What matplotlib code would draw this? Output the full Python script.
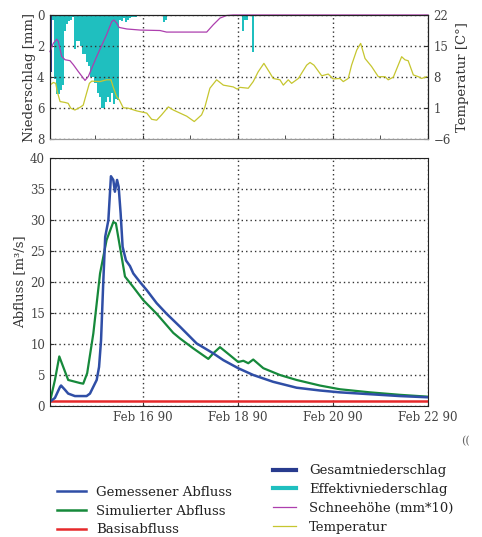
import datetime as dt
import matplotlib
matplotlib.use("Agg")
import matplotlib.pyplot as plt
import matplotlib.dates as mdates
from matplotlib.lines import Line2D

plt.rcParams['font.family'] = ['DejaVu Serif']
plt.rcParams['mathtext.fontset'] = 'dejavuserif'

t0 = dt.datetime(1990, 2, 14)

# Abfluss, Stunden ab 14.02.1990 00:00
q_obs_h = [1, 3.5, 6.1, 6.6, 8.6, 10.2, 13.6, 19.5, 21.2, 22.9, 24.6, 25.8, 26.8, 27.9,
           28.9, 30.5, 31.8, 33.0, 33.8, 34.9, 35.7, 36.7, 37.7, 39.4, 41.4, 43.1, 46.5,
           49.9, 54.9, 59.9, 66.7, 75.1, 83.5, 88.6, 96.1, 103.7, 113.8, 125.6, 137.4,
           147.5, 162.7, 177.8, 192]
q_obs = [0.7, 1.3, 3.1, 3.3, 2.6, 2.0, 1.6, 1.6, 2.0, 3.1, 4.2, 6.3, 10.6, 19.8,
         27.3, 30.0, 37.1, 36.5, 34.6, 36.5, 35.4, 31.1, 25.7, 23.5, 22.6, 21.4, 20.0,
         18.7, 16.6, 14.9, 12.8, 10.1, 8.5, 7.4, 6.1, 5.0, 3.9, 2.95, 2.5,
         2.2, 1.9, 1.6, 1.4]

q_sim_h = [1, 3.5, 5.7, 7.7, 10.2, 16.2, 17.8, 19.8, 22.9, 26.3, 29.6, 33.0, 34.3, 37.2,
           38.9, 43.1, 48.1, 54.9, 63.3, 66.7, 73.4, 81.0, 83.5, 86.9, 91.9, 96.1, 98.7,
           101.2, 103.7, 108.8, 117.2, 125.6, 137.4, 147.5, 162.7, 177.8, 192]
q_sim = [0.7, 4.2, 8.0, 6.3, 4.2, 3.7, 3.6, 5.3, 11.7, 21.4, 26.8, 29.7, 29.5, 24.1,
         20.9, 19.2, 17.1, 14.9, 11.8, 10.9, 9.3, 7.6, 8.5, 9.5, 8.2, 7.1, 7.3,
         6.9, 7.5, 6.1, 5.0, 4.2, 3.3, 2.7, 2.2, 1.8, 1.5]

q_base = 0.8

# Niederschlag (stuendlich, Ende der Stunde) [mm]
p_tot_h = [2]
p_tot = [3.7]
p_eff_h = [3, 4, 5, 6, 7, 8, 9, 10, 11, 12, 13, 14, 15, 16, 17, 18, 19, 20, 21, 22,
           23, 24, 25, 26, 27, 28, 29, 30, 31, 32, 33, 34, 35, 36,
           37, 38, 39, 40, 41, 42, 43, 44, 45, 59, 60, 99, 100, 101, 104]
p_eff = [0.3, 4.1, 5.1, 5.1, 4.8, 4.5, 1.0, 0.55, 0.4, 0.3, 0.1, 2.2, 1.7, 1.7, 2.0,
         2.5, 2.5, 3.0, 3.3, 4.0, 4.0, 4.4, 4.4, 5.0, 5.3, 6.0, 6.0, 5.6, 5.3, 5.6,
         5.0, 5.7, 5.4, 5.5,
         0.3, 0.4, 0.2, 0.45, 0.3, 0.2, 0.15, 0.1, 0.1, 0.45, 0.3, 1.0, 0.3, 0.3, 2.4]

# Schneehoehe (mm*10)
snow_h = [1, 2.7, 4.4, 5.2, 6.9, 8.6, 11.1, 12.8, 15.3, 18.7, 20.4, 24.6, 29.6, 32.2,
          33.3, 34.7, 35.9, 39.8, 46.5, 56.6, 59.9, 80.2, 83.5, 86.9, 90.3, 93.6, 192]
snow = [2.36, 1.82, 1.56, 1.7, 2.66, 2.88, 2.94, 3.2, 3.64, 4.21, 3.95, 2.67, 1.27, 0.43,
        0.32, 0.52, 0.80, 0.90, 0.97, 1.0, 1.1, 1.1, 0.63, 0.2, 0.03, 0.0, 0.0]

# Temperatur [C]
temp_h = [1.0, 2.7, 3.9, 4.7, 6.1, 8.6, 10.2, 11.5, 13.6, 16.2, 17.8, 19.5, 20.9, 22.1,
          26.3, 29.6, 31.8, 33.0, 34.7, 36.0, 38.0, 40.6, 44.8, 49.9, 52.4, 54.9, 57.4,
          60.8, 63.3, 66.7, 70.1, 73.9, 77.6, 79.3, 81.8, 85.2, 88.6, 93.6, 95.6, 97.0,
          101.2, 103.7, 106.2, 109.1, 112.2, 113.8, 117.2, 118.9, 121.4, 123.1, 126.5,
          130.7, 132.4, 134.4, 138.3, 141.6, 144.1, 147.5, 149.2, 151.7, 153.4, 156.0,
          158.0, 160.2, 163.5, 166.9, 170.3, 171.9, 174.5, 178.7, 180.4, 182.0, 184.6,
          187.1, 188.8, 191.3]
temp = [6.2, 6.8, 6.6, 4.7, 2.5, 2.3, 2.1, 1.0, 0.6, 1.2, 1.7, 4.4, 6.6, 7.1,
        7.0, 7.4, 7.4, 5.7, 3.6, 2.9, 1.1, 1.0, 0.4, -0.1, -1.5, -1.7, -0.5,
        1.3, 0.6, -0.1, -0.8, -2.0, -0.5, 1.3, 5.5, 7.4, 6.2, 5.8, 5.3, 5.7,
        5.5, 7.0, 9.2, 11.1, 8.9, 7.7, 7.4, 6.2, 7.4, 6.6, 7.7,
        10.7, 11.3, 10.7, 8.3, 8.7, 7.6, 7.7, 7.0, 7.7, 10.7, 14.1,
        15.6, 12.2, 10.4, 8.1, 8.1, 7.4, 8.0, 12.6, 11.9, 11.7, 8.5,
        8.1, 7.7, 8.1]


def times(hours):
    return [t0 + dt.timedelta(hours=h) for h in hours]


c_obs = '#2f4ea6'
c_sim = '#16893b'
c_base = '#e6292b'
c_tot = '#283b8e'
c_eff = '#1fbfbf'
c_snow = '#ad3fae'
c_temp = '#c6c62f'
dots = (0, (1, 2.2))

fig = plt.figure(figsize=(4.82, 5.37), dpi=100)
ax_p = fig.add_axes([0.1037, 0.7406, 0.7842, 0.2315])
ax_q = fig.add_axes([0.1037, 0.2440, 0.7842, 0.4613])
ax_t = ax_p.twinx()

xmin = t0 + dt.timedelta(hours=1)
xmax = t0 + dt.timedelta(hours=192)

# oberes Diagramm: Niederschlag, Schnee, Temperatur
ax_p.bar(times([h - 1 for h in p_tot_h]), p_tot, width=1 / 24, align='edge',
         color=c_tot, lw=0)
ax_p.bar(times([h - 1 for h in p_eff_h]), p_eff, width=1 / 24, align='edge',
         color=c_eff, lw=0)
ax_p.plot(times(snow_h), snow, color=c_snow, lw=0.9, clip_on=False, zorder=5)
ax_t.plot(times(temp_h), temp, color=c_temp, lw=0.9)

ax_p.set_ylim(8, 0)
ax_p.set_yticks([0, 2, 4, 6, 8])
ax_t.set_ylim(-6, 22)
ax_t.set_yticks([-6, 1, 8, 15, 22])
ax_p.set_xlim(xmin, xmax)
ax_p.set_ylabel('Niederschlag [mm]', fontsize=9.5, color='#333333', labelpad=0.5)
ax_t.set_ylabel('Temperatur [C°]', fontsize=9.5, color='#333333', labelpad=4)
ax_p.xaxis.set_major_locator(mdates.DayLocator(bymonthday=[16, 18, 20, 22]))
ax_p.xaxis.set_minor_locator(mdates.DayLocator())
ax_p.tick_params(axis='x', which='both', labelbottom=False, direction='in',
                 length=3, color='#333333')
ax_p.grid(True, which='major', ls=dots, color='#333333', lw=1)
ax_p.spines['bottom'].set_color('#999999')
ax_t.spines['bottom'].set_color('#999999')

# unteres Diagramm: Abfluss
ax_q.plot(times([q_obs_h[0], q_obs_h[-1]]), [q_base, q_base], color=c_base, lw=1.8)
ax_q.plot(times(q_sim_h), q_sim, color=c_sim, lw=1.6)
ax_q.plot(times(q_obs_h), q_obs, color=c_obs, lw=1.8)
ax_q.set_xlim(xmin, xmax)
ax_q.set_ylim(0, 40)
ax_q.set_yticks(range(0, 41, 5))
ax_q.set_ylabel('Abfluss [m³/s]', fontsize=9.5, color='#333333', labelpad=2.5)
ax_q.xaxis.set_major_locator(mdates.DayLocator(bymonthday=[16, 18, 20, 22]))
ax_q.xaxis.set_major_formatter(mdates.DateFormatter('%b %d %y'))
ax_q.grid(True, ls=dots, color='#333333', lw=1)

for ax in (ax_p, ax_t, ax_q):
    ax.tick_params(labelsize=8.5, labelcolor='#444444', direction='in',
                   length=3, color='#333333')
    for s in ('top', 'left', 'right'):
        ax.spines[s].set_color('#222222')
ax_q.spines['bottom'].set_color('#222222')
ax_p.tick_params(axis='y', pad=4)
ax_t.tick_params(axis='y', pad=4)

fig.text(0.957, 0.172, '((', fontsize=8, color='#666666')

left = [Line2D([], [], color=c_obs, lw=1.8),
        Line2D([], [], color=c_sim, lw=1.8),
        Line2D([], [], color=c_base, lw=1.8)]
fig.legend(left, ['Gemessener Abfluss', 'Simulierter Abfluss', 'Basisabfluss'],
           loc='upper left', bbox_to_anchor=(0.105, 0.108), frameon=False,
           fontsize=9.5, handlelength=2.2, handletextpad=0.75, labelspacing=0.45,
           borderpad=0, labelcolor='#222222')
right = [Line2D([], [], color=c_tot, lw=3),
         Line2D([], [], color=c_eff, lw=3),
         Line2D([], [], color=c_snow, lw=0.9),
         Line2D([], [], color=c_temp, lw=0.9)]
fig.legend(right, ['Gesamtniederschlag', 'Effektivniederschlag', 'Schneehöhe (mm*10)',
                   'Temperatur'],
           loc='upper left', bbox_to_anchor=(0.552, 0.148), frameon=False,
           fontsize=9.5, handlelength=1.8, handletextpad=0.95, labelspacing=0.45,
           borderpad=0, labelcolor='#222222')

fig.savefig('out.png', dpi=100)
